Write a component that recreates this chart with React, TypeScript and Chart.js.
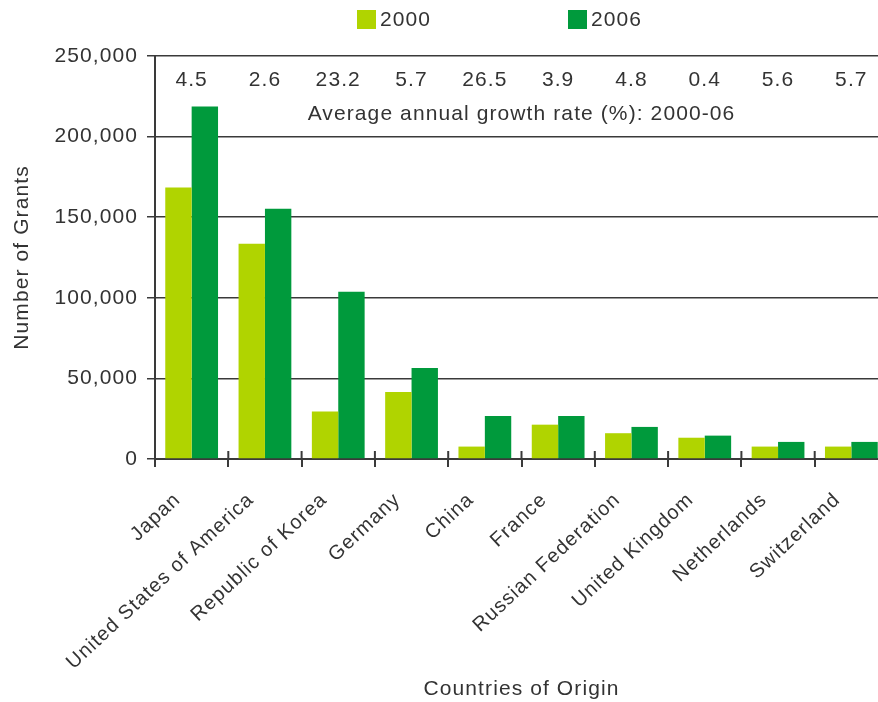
import React, { useEffect, useRef } from "react";
import { Chart, registerables } from "chart.js";

Chart.register(...registerables);

const categories = [
  "Japan",
  "United States of America",
  "Republic of Korea",
  "Germany",
  "China",
  "France",
  "Russian Federation",
  "United Kingdom",
  "Netherlands",
  "Switzerland",
];
const grants2000 = [168500, 133500, 29400, 41500, 7700, 21300, 16000, 13200, 7700, 7700];
const grants2006 = [218700, 155300, 103700, 56400, 26700, 26700, 19900, 14500, 10600, 10600];
const growthRates = ["4.5", "2.6", "23.2", "5.7", "26.5", "3.9", "4.8", "0.4", "5.6", "5.7"];
const growthCaption = "Average annual growth rate (%): 2000-06";
const seriesLabels = ["2000", "2006"];
const yTicks = [0, 50000, 100000, 150000, 200000, 250000];

const FONT = "'Liberation Sans', Arial, sans-serif";
const TEXT = "#333333";
const LINE = "#3a3a3a";
const SPACING = "1.1px";

const spacingPlugin = {
  id: "spacing",
  beforeLayout(chart: any) {
    (chart.ctx as any).letterSpacing = SPACING;
  },
  beforeDraw(chart: any) {
    (chart.ctx as any).letterSpacing = SPACING;
  },
};

const overlayPlugin = {
  id: "overlay",
  afterDatasetsDraw(chart: any) {
    const { ctx, chartArea, scales } = chart;
    const xs = scales.x;
    ctx.save();
    (ctx as any).letterSpacing = SPACING;
    // inner halves of x tick marks
    ctx.strokeStyle = LINE;
    ctx.lineWidth = 2;
    const step = xs.getPixelForTick(1) - xs.getPixelForTick(0);
    for (let i = 0; i <= categories.length; i++) {
      const x = xs.getPixelForTick(0) - step / 2 + i * step;
      ctx.beginPath();
      ctx.moveTo(x, chartArea.bottom);
      ctx.lineTo(x, chartArea.bottom - 8);
      ctx.stroke();
    }
    // growth rates
    ctx.fillStyle = TEXT;
    ctx.font = `21px ${FONT}`;
    ctx.textAlign = "center";
    ctx.textBaseline = "middle";
    growthRates.forEach((g, i) => {
      ctx.fillText(g, xs.getPixelForValue(i), chartArea.top + 24);
    });
    ctx.fillText(growthCaption, (chartArea.left + chartArea.right) / 2, chartArea.top + 58);
    // legend
    const items = chart.data.datasets.map((d: any) => ({ label: d.label, color: d.backgroundColor }));
    const starts = [357, 568];
    ctx.textAlign = "left";
    items.forEach((it: any, i: number) => {
      ctx.fillStyle = it.color;
      ctx.fillRect(starts[i], 10, 19, 19);
      ctx.fillStyle = TEXT;
      ctx.fillText(it.label, starts[i] + 23, 20);
    });
    ctx.restore();
  },
};

export default function App() {
  const ref = useRef<HTMLCanvasElement>(null);
  useEffect(() => {
    if (!ref.current) return;
    const chart = new Chart(ref.current, {
      type: "bar",
      data: {
        labels: categories,
        datasets: [
          { label: seriesLabels[0], data: grants2000, backgroundColor: "#b0d400" },
          { label: seriesLabels[1], data: grants2006, backgroundColor: "#009a3c" },
        ],
      },
      options: {
        animation: false,
        responsive: false,
        maintainAspectRatio: false,
        layout: { padding: { top: 56, right: 2, left: 0, bottom: 0 } },
        datasets: { bar: { categoryPercentage: 0.72, barPercentage: 1 } },
        plugins: { legend: { display: false }, tooltip: { enabled: false } },
        scales: {
          x: {
            afterFit(scale: any) {
              scale.height = 702 - 459;
            },
            grid: { drawOnChartArea: false, tickLength: 8, color: LINE, lineWidth: 2, offset: true },
            border: { color: LINE, width: 2 },
            ticks: {
              minRotation: 43,
              maxRotation: 43,
              padding: 21,
              labelOffset: -14,
              color: TEXT,
              font: { family: FONT, size: 20 },
              autoSkip: false,
            },
            title: {
              display: true,
              text: "Countries of Origin",
              color: TEXT,
              font: { family: FONT, size: 21 },
              padding: { top: 0, bottom: 0 },
            },
          },
          y: {
            min: 0,
            max: 250000,
            afterFit(scale: any) {
              scale.width = 155;
            },
            afterBuildTicks(scale: any) {
              scale.ticks = yTicks.map((v) => ({ value: v }));
            },
            grid: { color: LINE, lineWidth: 1.5, tickLength: 8 },
            border: { color: LINE, width: 2 },
            ticks: {
              padding: 9,
              color: TEXT,
              font: { family: FONT, size: 21 },
              callback: (v: any) => Number(v).toLocaleString("en-US"),
            },
            title: {
              display: true,
              text: "Number of Grants",
              color: TEXT,
              font: { family: FONT, size: 21 },
              padding: { top: 10, bottom: 0 },
            },
          },
        },
      },
      plugins: [spacingPlugin, overlayPlugin],
    });
    return () => chart.destroy();
  }, []);
  return (
    <div style={{ position: "fixed", left: 0, top: 0, width: 878, height: 702, overflow: "hidden", background: "#fff" }}>
      <canvas ref={ref} width={890} height={702} style={{ width: 890, height: 702, display: "block" }} />
    </div>
  );
}
